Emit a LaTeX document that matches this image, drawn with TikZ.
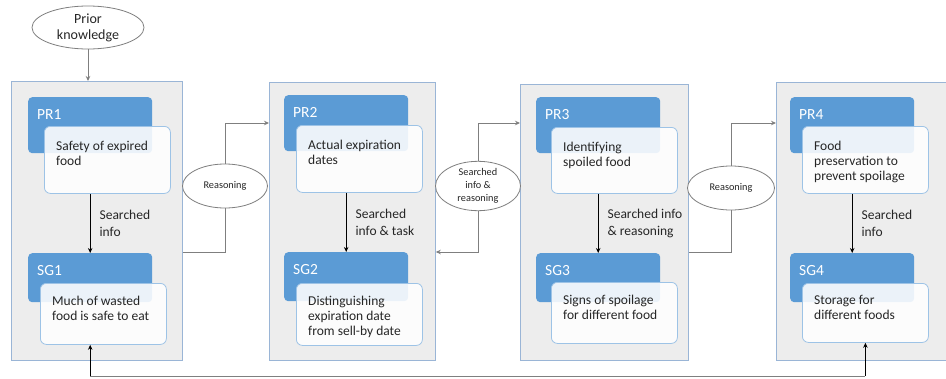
\documentclass[tikz,border=0pt]{standalone}
\usepackage{fontspec}
\setmainfont{Carlito}
\usetikzlibrary{shapes.geometric,arrows.meta}

\definecolor{headblue}{HTML}{5B9BD5}
\definecolor{panelgray}{HTML}{EDEDED}
\definecolor{panelline}{HTML}{9AB5D6}
\definecolor{cardline}{HTML}{9DC3E6}
\definecolor{linkgray}{HTML}{7F7F7F}
\definecolor{ink}{HTML}{262626}

\begin{document}
\begin{tikzpicture}[x=1pt,y=-1pt,
  panel/.style={draw=panelline, fill=panelgray, line width=0.8pt, anchor=north west, inner sep=0pt},
  head/.style={fill=headblue, rounded corners=4pt, anchor=north west, inner xsep=9pt, inner ysep=0pt,
    text width=106pt, text height=22.5pt, text=white, font=\fontsize{15.5}{17}\selectfont},
  prhead/.style={head, text depth=33.5pt},
  sghead/.style={head, text depth=26.5pt},
  card/.style={draw=cardline, fill=white, fill opacity=0.88, line width=0.8pt, rounded corners=6pt,
    anchor=north west, inner sep=0pt, minimum width=126pt},
  cardtext/.style={anchor=north west, inner sep=0pt, align=left, text=ink, font=\fontsize{13.5}{15}\selectfont},
  bubble/.style={ellipse, draw=linkgray, fill=white, line width=0.8pt, inner sep=0pt, align=center, text=ink},
  flow/.style={draw=black, line width=0.8pt, -{Stealth[length=5pt,width=4.5pt]}},
  link/.style={draw=linkgray, line width=0.9pt},
  tip/.style={-{Stealth[length=5pt,width=4.5pt]}},
  note/.style={right, inner xsep=9pt, align=left, text=ink, font=\fontsize{13.5}{17}\selectfont}
]
  \useasboundingbox (0,0) rectangle (946,378);

  % four stage panels
  \node[panel, minimum width=171pt, minimum height=279pt] (p1) at (11,81) {};
  \node[panel, minimum width=166pt, minimum height=278pt] (p2) at (269,82) {};
  \node[panel, minimum width=168pt, minimum height=276pt] (p3) at (520,84) {};
  \node[panel, minimum width=174pt, minimum height=278pt] (p4) at (776,82) {};

  % problem / subgoal headers
  \node[prhead] (pr1) at (28,97) {PR1};
  \node[prhead] (pr2) at (284,95) {PR2};
  \node[prhead] (pr3) at (536,97) {PR3};
  \node[prhead] (pr4) at (790,97) {PR4};
  \node[sghead] (sg1) at (28,253) {SG1};
  \node[sghead] (sg2) at (284,252) {SG2};
  \node[sghead] (sg3) at (536,253) {SG3};
  \node[sghead] (sg4) at (790,253) {SG4};

  % white cards over the headers
  \node[card, minimum height=67pt] (pr1c) at (44,126) {};
  \node[card, minimum height=67pt] (pr2c) at (296,125) {};
  \node[card, minimum height=66pt] (pr3c) at (551,127) {};
  \node[card, minimum height=67pt] (pr4c) at (802,126) {};
  \node[card, minimum height=61pt] (sg1c) at (40,283) {};
  \node[card, minimum height=62pt] (sg2c) at (296,283) {};
  \node[card, minimum height=61pt] (sg3c) at (551,282) {};
  \node[card, minimum height=59pt] (sg4c) at (802,283) {};

  \node[cardtext] (pr1t) at ([shift={(12pt,-14.5pt)}]pr1c.north west) {Safety of expired\\food};
  \node[cardtext] (pr2t) at ([shift={(12pt,-14.5pt)}]pr2c.north west) {Actual expiration\\dates};
  \node[cardtext] (pr3t) at ([shift={(12pt,-14.5pt)}]pr3c.north west) {Identifying\\spoiled food};
  \node[cardtext] (pr4t) at ([shift={(12pt,-14.5pt)}]pr4c.north west) {Food\\preservation to\\prevent spoilage};
  \node[cardtext] (sg1t) at ([shift={(12pt,-12.5pt)}]sg1c.north west) {Much of wasted\\food is safe to eat};
  \node[cardtext] (sg2t) at ([shift={(12pt,-12.5pt)}]sg2c.north west) {Distinguishing\\expiration date\\from sell-by date};
  \node[cardtext] (sg3t) at ([shift={(12pt,-12.5pt)}]sg3c.north west) {Signs of spoilage\\for different food};
  \node[cardtext] (sg4t) at ([shift={(12pt,-12.5pt)}]sg4c.north west) {Storage for\\different foods};

  % steps inside each panel
  \draw[flow] (pr1 |- pr1c.south) -- (sg1.north) node[note, midway] {Searched\\info};
  \draw[flow] (pr2 |- pr2c.south) -- (sg2.north) node[note, midway] {Searched\\info \& task};
  \draw[flow] (pr3 |- pr3c.south) -- (sg3.north) node[note, midway] {Searched info\\\& reasoning};
  \draw[flow] (pr4 |- pr4c.south) -- (sg4.north) node[note, midway] {Searched\\info};

  % ellipses between the panels
  \node[bubble, minimum width=112pt, minimum height=43pt, font=\fontsize{14}{16}\selectfont] (prior) at (88,27.5) {Prior\\knowledge};
  \node[bubble, minimum width=85pt, minimum height=44pt, font=\fontsize{10.3}{13}\selectfont] (reason1) at (225,186) {Reasoning};
  \node[bubble, minimum width=85pt, minimum height=45pt, font=\fontsize{10.3}{13}\selectfont] (reason2) at (478,186) {Searched\\info \&\\reasoning};
  \node[bubble, minimum width=87pt, minimum height=44pt, font=\fontsize{10.3}{13}\selectfont] (reason3) at (731,188) {Reasoning};

  \coordinate (upper) at (0,123);
  \coordinate (lower) at (0,252);
  \coordinate (floor) at (0,376);

  \draw[link, tip] (prior) -- (p1.north -| prior);
  \draw[link] (p1.east |- lower) -| (reason1);
  \draw[link, tip] (reason1) |- (p2.west |- upper);
  \draw[link, tip] (reason2) |- (p2.east |- lower);
  \draw[link, tip] (reason2) |- (p3.west |- upper);
  \draw[link] (p3.east |- lower) -| (reason3);
  \draw[link, tip] (reason3) |- (p4.west |- upper);

  % feedback along the bottom
  \draw[link, line width=0.7pt] (sg1 |- floor) -- (sg4c |- floor);
  \draw[flow] (sg1 |- floor) -- (sg1 |- sg1c.south);
  \draw[flow] (sg4c |- floor) -- (sg4c.south);
\end{tikzpicture}
\end{document}
